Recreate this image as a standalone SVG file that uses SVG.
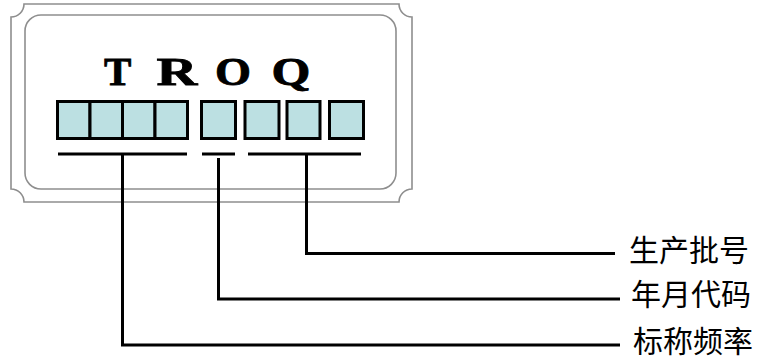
<svg xmlns="http://www.w3.org/2000/svg" width="762" height="362" viewBox="0 0 762 362">
<style>
.frame{fill:none;stroke:#8e8e8e;stroke-width:1.6}
.box{fill:#bce0e2;stroke:#000;stroke-width:3}
.bar{stroke:#000;stroke-width:3;fill:none}
.wire{stroke:#000;stroke-width:3;fill:none}
.title{font-family:"Liberation Serif","Times New Roman",serif;font-weight:bold;font-size:41px;fill:#000;stroke:#000;stroke-width:0.8}
.lbl{font-family:"Noto Sans CJK SC","Noto Sans",sans-serif;font-size:30px;fill:#000}
</style>
<rect width="762" height="362" fill="#fff"/>
<g id="chip">
<path class="frame" d="M24,4 H399 A13 13 0 0 0 412,17 V189 A13 13 0 0 0 399,202 H24 A13 13 0 0 0 11,189 V17 A13 13 0 0 0 24,4 Z"/>
<rect class="frame" x="25" y="15" width="371" height="174" rx="16"/>
<text class="title" transform="translate(104,85)">T</text>
<text class="title" transform="translate(156.5,85) scale(1.38,1)">R</text>
<text class="title" transform="translate(215,85) scale(1.13,1)">O</text>
<text class="title" transform="translate(271.5,85) scale(1.22,1)">Q</text>
</g>
<g id="freq-boxes">
<rect class="box" x="57.5" y="101.5" width="32.5" height="37"/>
<rect class="box" x="90" y="101.5" width="32.5" height="37"/>
<rect class="box" x="122.5" y="101.5" width="32.5" height="37"/>
<rect class="box" x="155" y="101.5" width="32.5" height="37"/>
<line class="bar" x1="58" y1="154" x2="187" y2="154"/>
</g>
<g id="date-box">
<rect class="box" x="201.5" y="101.5" width="34" height="37"/>
<line class="bar" x1="202" y1="154" x2="235" y2="154"/>
</g>
<g id="batch-boxes">
<rect class="box" x="245" y="101.5" width="34" height="37"/>
<rect class="box" x="287" y="101.5" width="33" height="37"/>
<rect class="box" x="329.5" y="101.5" width="34" height="37"/>
<line class="bar" x1="248" y1="154" x2="361" y2="154"/>
</g>
<g id="connectors">
<path class="wire" d="M306.5,154 V253.5 H615"/>
<path class="wire" d="M218.5,158 V299 H620"/>
<path class="wire" d="M122.5,154 V345 H620"/>
</g>
<g id="label-batch"><text class="lbl" x="629" y="261">生产批号</text></g>
<g id="label-date"><text class="lbl" x="631" y="305">年月代码</text></g>
<g id="label-freq"><text class="lbl" x="633" y="352">标称频率</text></g>
</svg>
